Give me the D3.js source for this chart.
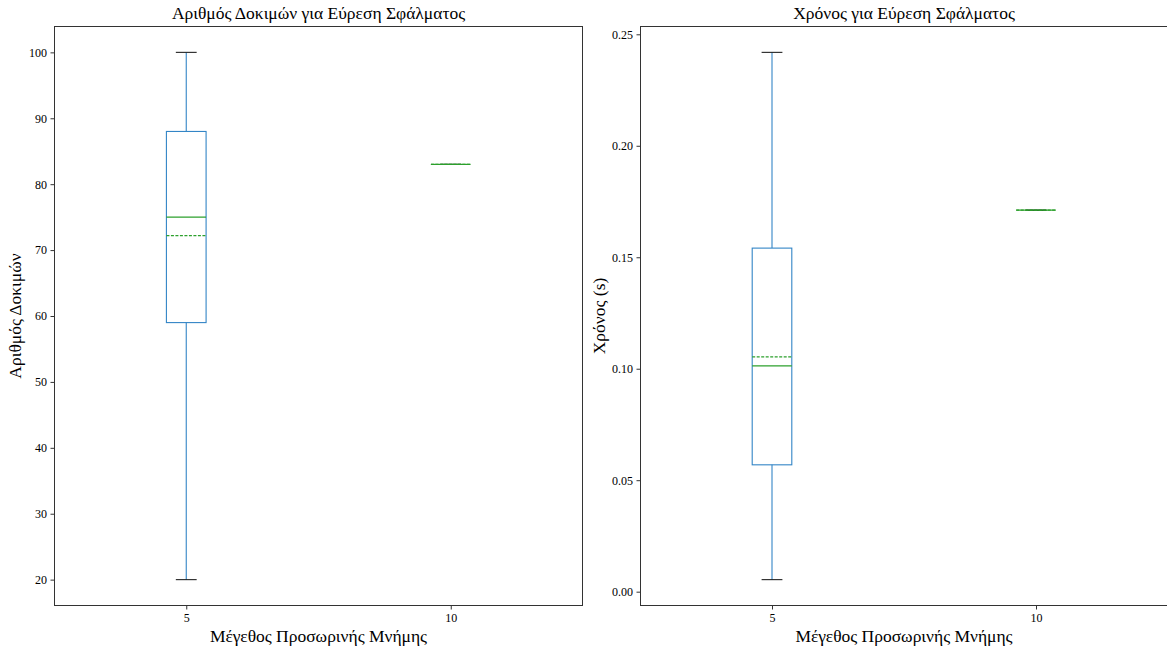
<!DOCTYPE html>
<html>
<head>
<meta charset="utf-8">
<script src="https://cdn.jsdelivr.net/npm/d3@7"></script>
<style>
  html, body { margin: 0; padding: 0; background: #fff; }
  svg text { font-family: "Liberation Serif", "DejaVu Serif", serif; fill: #000; }
</style>
</head>
<body>
<svg id="chart" width="1167" height="651"></svg>
<script>
// Cache sizes on the x axis
const categories = ["5", "10"];

// Number of trials to find the fault: box statistics per cache size
const trialsMin    = [20, 83];
const trialsQ1     = [59, 83];
const trialsMedian = [75, 83];
const trialsQ3     = [88, 83];
const trialsMax    = [100, 83];
const trialsMean   = [72.2, 83];
const trialsTicks  = [20, 30, 40, 50, 60, 70, 80, 90, 100];

// Time to find the fault (seconds): box statistics per cache size
const timeMin    = [0.0054, 0.1711];
const timeQ1     = [0.0569, 0.1711];
const timeMedian = [0.1013, 0.1711];
const timeQ3     = [0.1541, 0.1711];
const timeMax    = [0.2419, 0.1711];
const timeMean   = [0.1053, 0.1711];
const timeTicks  = [0.00, 0.05, 0.10, 0.15, 0.20, 0.25];

const svg = d3.select("#chart");

function drawPanel(opts) {
  const { left, top, width, height, title, xLabel, yLabel, yLabelX,
          stats, ticks, tickFormat } = opts;
  const g = svg.append("g").attr("transform", `translate(${left},${top})`);

  const all = [].concat(stats.min, stats.max);
  const lo = d3.min(all), hi = d3.max(all);
  const pad = (hi - lo) * 0.05;
  const y = d3.scaleLinear().domain([lo - pad, hi + pad]).range([height, 0]);
  // positions 1..n with half-unit margins, like a category box plot
  const x = d3.scaleLinear().domain([0.5, categories.length + 0.5]).range([0, width]);
  const unit = x(1) - x(0);
  const boxW = unit * 0.15;
  const capW = boxW / 2 + 1;

  categories.forEach((c, i) => {
    const cx = x(i + 1);
    const bl = cx - boxW / 2, br = cx + boxW / 2;
    const b = g.append("g");
    // box
    b.append("rect")
      .attr("x", bl).attr("y", y(stats.q3[i]))
      .attr("width", boxW).attr("height", Math.max(0, y(stats.q1[i]) - y(stats.q3[i])))
      .attr("fill", "none").attr("stroke", "#3385c6").attr("stroke-width", 1.1);
    // whiskers
    b.append("line").attr("x1", cx).attr("x2", cx)
      .attr("y1", y(stats.q3[i])).attr("y2", y(stats.max[i]))
      .attr("stroke", "#3385c6").attr("stroke-width", 1.1);
    b.append("line").attr("x1", cx).attr("x2", cx)
      .attr("y1", y(stats.q1[i])).attr("y2", y(stats.min[i]))
      .attr("stroke", "#3385c6").attr("stroke-width", 1.1);
    // caps
    [stats.min[i], stats.max[i]].forEach(v => {
      b.append("line").attr("x1", cx - capW / 2).attr("x2", cx + capW / 2)
        .attr("y1", y(v)).attr("y2", y(v))
        .attr("stroke", "#222").attr("stroke-width", 1.1);
    });
    // median
    b.append("line").attr("x1", bl).attr("x2", br)
      .attr("y1", y(stats.median[i])).attr("y2", y(stats.median[i]))
      .attr("stroke", "#2ca02c").attr("stroke-width", 1.3);
    // mean (dashed)
    b.append("line").attr("x1", bl).attr("x2", br)
      .attr("y1", y(stats.mean[i])).attr("y2", y(stats.mean[i]))
      .attr("stroke", "#2ca02c").attr("stroke-width", 1.3)
      .attr("stroke-dasharray", "3,1.5");
  });

  // axes
  const yAxis = g.append("g")
    .call(d3.axisLeft(y).tickValues(ticks).tickFormat(tickFormat).tickSize(3.5).tickPadding(3.5));
  const xAxis = g.append("g").attr("transform", `translate(0,${height})`)
    .call(d3.axisBottom(x).tickValues(categories.map((c, i) => i + 1))
      .tickFormat((d, i) => categories[i]).tickSize(3.5).tickPadding(3.5));
  [yAxis, xAxis].forEach(a => {
    a.select(".domain").remove();
    a.selectAll("line").attr("stroke", "#333");
    a.selectAll("text").style("font-size", "12px")
      .style("font-family", '"Liberation Serif", "DejaVu Serif", serif');
  });

  // frame
  g.append("rect").attr("x", 0.5).attr("y", 0.5).attr("width", width - 1).attr("height", height - 1)
    .attr("fill", "none").attr("stroke", "#333").attr("stroke-width", 1);

  // titles
  g.append("text").attr("x", width / 2).attr("y", -7)
    .attr("text-anchor", "middle").style("font-size", "17.5px").text(title);
  g.append("text").attr("x", width / 2).attr("y", height + 36)
    .attr("text-anchor", "middle").style("font-size", "17.5px").text(xLabel);
  g.append("text")
    .attr("transform", `translate(${yLabelX},${height / 2}) rotate(-90)`)
    .attr("text-anchor", "middle").style("font-size", "17.5px").text(yLabel);
}

drawPanel({
  left: 54, top: 26, width: 529, height: 580,
  title: "Αριθμός Δοκιμών για Εύρεση Σφάλματος",
  xLabel: "Μέγεθος Προσωρινής Μνήμης",
  yLabel: "Αριθμός Δοκιμών", yLabelX: -33,
  stats: { min: trialsMin, q1: trialsQ1, median: trialsMedian, q3: trialsQ3, max: trialsMax, mean: trialsMean },
  ticks: trialsTicks, tickFormat: d3.format("d")
});

drawPanel({
  left: 640, top: 26, width: 528, height: 580,
  title: "Χρόνος για Εύρεση Σφάλματος",
  xLabel: "Μέγεθος Προσωρινής Μνήμης",
  yLabel: "Χρόνος (s)", yLabelX: -35,
  stats: { min: timeMin, q1: timeQ1, median: timeMedian, q3: timeQ3, max: timeMax, mean: timeMean },
  ticks: timeTicks, tickFormat: d3.format(".2f")
});
</script>
</body>
</html>
